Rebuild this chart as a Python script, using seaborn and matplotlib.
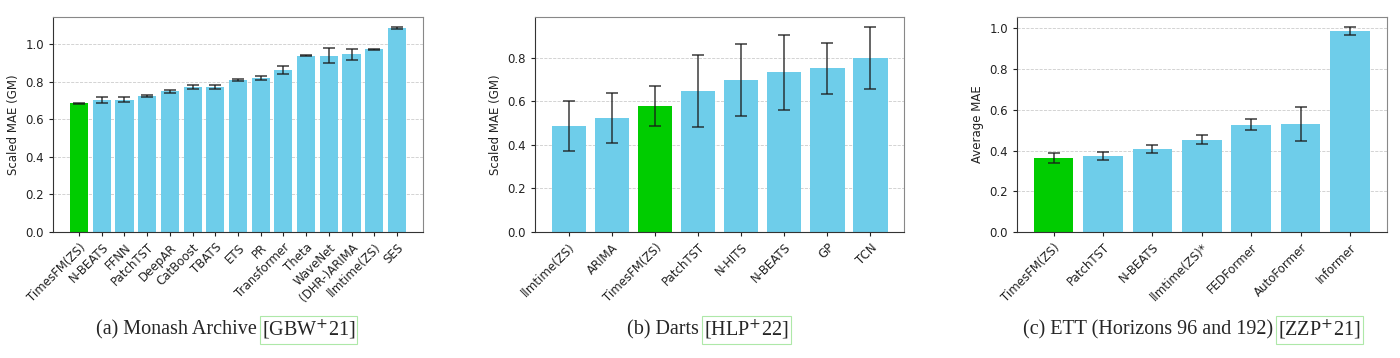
import matplotlib
matplotlib.use("Agg")
import matplotlib.pyplot as plt
import pandas as pd
import seaborn as sns

# (a) Monash Archive
monash_models = ["TimesFM(ZS)", "N-BEATS", "FFNN", "PatchTST", "DeepAR", "CatBoost",
                 "TBATS", "ETS", "PR", "Transformer", "Theta", "WaveNet",
                 "(DHR-)ARIMA", "llmtime(ZS)", "SES"]
monash_mae = [0.684, 0.702, 0.705, 0.723, 0.748, 0.771, 0.771, 0.810, 0.821,
              0.862, 0.938, 0.938, 0.945, 0.972, 1.085]
monash_err = [0.002, 0.015, 0.015, 0.006, 0.007, 0.012, 0.011, 0.004, 0.010,
              0.020, 0.002, 0.040, 0.028, 0.004, 0.004]

# (b) Darts
darts_models = ["llmtime(ZS)", "ARIMA", "TimesFM(ZS)", "PatchTST", "N-HITS",
                "N-BEATS", "GP", "TCN"]
darts_mae = [0.487, 0.524, 0.578, 0.647, 0.696, 0.733, 0.751, 0.797]
darts_err = [0.114, 0.114, 0.093, 0.165, 0.165, 0.173, 0.117, 0.142]

# (c) ETT
ett_models = ["TimesFM(ZS)", "PatchTST", "N-BEATS", "llmtime(ZS)*", "FEDFormer",
              "AutoFormer", "Informer"]
ett_mae = [0.364, 0.375, 0.409, 0.454, 0.528, 0.531, 0.986]
ett_err = [0.023, 0.020, 0.019, 0.024, 0.025, 0.084, 0.019]

panels = [
    (monash_models, monash_mae, monash_err, "Scaled MAE (GM)",
     "(a)", " Monash Archive ", "[GBW$^{+}$21]"),
    (darts_models, darts_mae, darts_err, "Scaled MAE (GM)",
     "(b)", " Darts ", "[HLP$^{+}$22]"),
    (ett_models, ett_mae, ett_err, "Average MAE",
     "(c)", " ETT (Horizons 96 and 192) ", "[ZZP$^{+}$21]"),
]

BLUE = "#6ecdea"
GREEN = "#00cc00"

sns.set_style("ticks")
plt.rcParams["font.family"] = ["DejaVu Sans"]

fig = plt.figure(figsize=(14, 3.58), dpi=100)
lefts = [0.038, 0.382, 0.7264]
cite_x = [0.187, 0.503, 0.913]

for i, (models, mae, err, ylabel, tag, title, cite) in enumerate(panels):
    ax = fig.add_axes([lefts[i], 0.352, 0.264, 0.6])
    df = pd.DataFrame({"model": models, "mae": mae, "err": err})
    colors = [GREEN if m == "TimesFM(ZS)" else BLUE for m in models]
    sns.barplot(data=df, x="model", y="mae", hue="model", palette=colors,
                legend=False, width=0.8, saturation=1, linewidth=0, ax=ax,
                zorder=2)
    ax.errorbar(range(len(models)), df["mae"], yerr=df["err"], fmt="none",
                ecolor="#1a1a1a", elinewidth=1.1, capsize=4, capthick=1.1,
                alpha=0.85, zorder=3)
    n = len(models)
    pad = 0.05 * (n - 0.2)
    ax.set_xlim(-0.4 - pad, n - 0.6 + pad)
    top = max(m + e for m, e in zip(mae, err))
    ax.set_ylim(0, top * 1.05)
    ax.set_xlabel("")
    ax.set_ylabel(ylabel, fontsize=8.5, color="#222222")
    ax.tick_params(axis="both", labelsize=8.5, colors="#222222", length=3)
    plt.setp(ax.get_xticklabels(), rotation=45, ha="right",
             rotation_mode="anchor")
    ax.yaxis.grid(True, linestyle="--", linewidth=0.6, color="#cccccc", zorder=0)
    ax.set_axisbelow(True)
    for side in ["left", "bottom"]:
        ax.spines[side].set_color("#333333")
    for side in ["top", "right"]:
        ax.spines[side].set_color("#888888")
        ax.spines[side].set_visible(True)

    # caption under each panel
    fig.text(cite_x[i], 0.078, tag + title, ha="right", va="center",
             fontsize=14.5, family=["Liberation Serif"])
    fig.text(cite_x[i], 0.078, cite, ha="left", va="center", fontsize=14.5,
             family=["Liberation Serif"],
             bbox=dict(boxstyle="square,pad=0.1", fc="none",
                       ec="#aee8a8", lw=0.8))

fig.savefig("out.png", dpi=100)
